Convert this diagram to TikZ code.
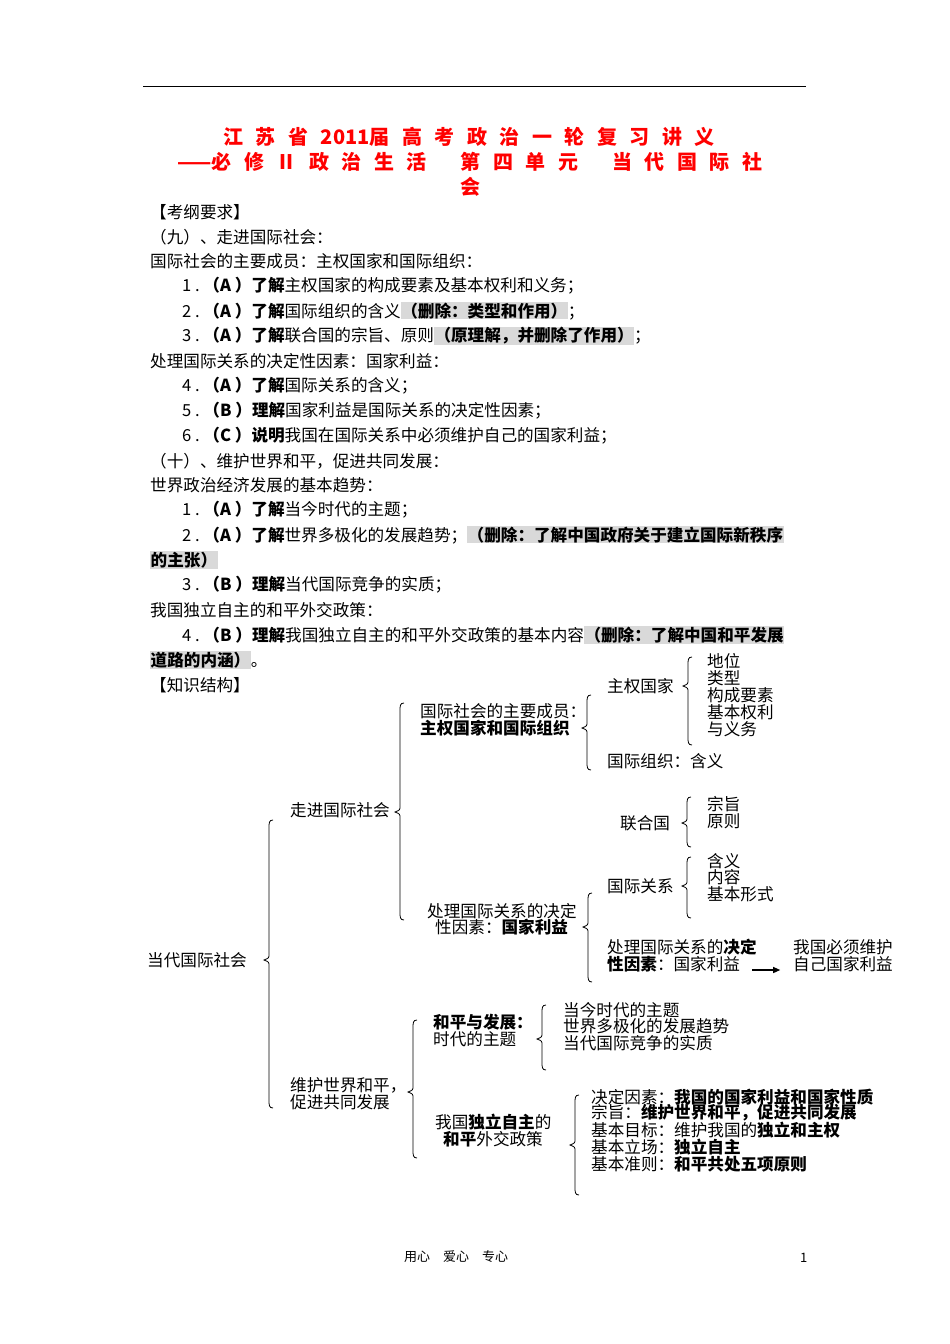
\documentclass[tikz,border=0pt]{standalone}
\usepackage{fontspec}
\setmainfont{Noto Sans CJK SC}
\usetikzlibrary{arrows.meta}
\definecolor{hl}{gray}{0.85}
\newcommand\hlt[1]{{\setlength{\fboxsep}{0.5pt}\colorbox{hl}{\bfseries #1}}}
\newcommand\tsp{\hspace{12.5pt}}
\newcommand\mybrace[4]{\draw[line width=0.8pt] (#1+9,#2) .. controls (#1+5,#2) and (#1+5,#2+3) .. (#1+5,#2+8) -- (#1+5,#4-6) .. controls (#1+5,#4-2) .. (#1,#4) .. controls (#1+5,#4+2) .. (#1+5,#4+6) -- (#1+5,#3-8) .. controls (#1+5,#3-3) and (#1+5,#3) .. (#1+9,#3);}
\begin{document}
\begin{tikzpicture}[x=1pt,y=-1pt,
  t/.style={anchor=west,inner sep=0pt,font=\fontsize{16.6}{17}\selectfont},
  ttl/.style={anchor=center,inner sep=0pt,text=red,font=\fontsize{20}{22}\selectfont\bfseries}]
\useasboundingbox (0,0) rectangle (950,1344);
\draw[line width=0.8pt] (143,86) coordinate (l1) -- (806,86) coordinate (l2);
\node[ttl] (h1) at (469,137) {江\tsp 苏\tsp 省\tsp 2011届\tsp 高\tsp 考\tsp 政\tsp 治\tsp 一\tsp 轮\tsp 复\tsp 习\tsp 讲\tsp 义};
\node[ttl] (h2) at (470,162) {——必\tsp 修\tsp Ⅱ\tsp 政\tsp 治\tsp 生\tsp 活\hspace{34pt}第\tsp 四\tsp 单\tsp 元\hspace{34pt}当\tsp 代\tsp 国\tsp 际\tsp 社};
\node[ttl] (h3) at (470,187) {会};
\node[t] (b1) at (150,212) {【考纲要求】};
\node[t] (b2) at (150,237) {（九）、走进国际社会：};
\node[t] (b3) at (150,261) {国际社会的主要成员：主权国家和国际组织：};
\node[t] (b4) at (182,286) {1\ .\ \textbf{（A ）了解}主权国家的构成要素及基本权利和义务；};
\node[t] (b5) at (182,311) {2\ .\ \textbf{（A ）了解}国际组织的含义\hlt{（删除：类型和作用）}；};
\node[t] (b6) at (182,336) {3\ .\ \textbf{（A ）了解}联合国的宗旨、原则\hlt{（原理解，并删除了作用）}；};
\node[t] (b7) at (150,361) {处理国际关系的决定性因素：国家利益：};
\node[t] (b8) at (182,386) {4\ .\ \textbf{（A ）了解}国际关系的含义；};
\node[t] (b9) at (182,411) {5\ .\ \textbf{（B ）理解}国家利益是国际关系的决定性因素；};
\node[t] (b10) at (182,436) {6\ .\ \textbf{（C ）说明}我国在国际关系中必须维护自己的国家利益；};
\node[t] (b11) at (150,461) {（十）、维护世界和平，促进共同发展：};
\node[t] (b12) at (150,485) {世界政治经济发展的基本趋势：};
\node[t] (b13) at (182,510) {1\ .\ \textbf{（A ）了解}当今时代的主题；};
\node[t] (b14) at (182,535) {2\ .\ \textbf{（A ）了解}世界多极化的发展趋势；\hlt{（删除：了解中国政府关于建立国际新秩序}};
\node[t] (b15) at (150,560) {\hlt{的主张）}};
\node[t] (b16) at (182,585) {3\ .\ \textbf{（B ）理解}当代国际竞争的实质；};
\node[t] (b17) at (150,610) {我国独立自主的和平外交政策：};
\node[t] (b18) at (182,635) {4\ .\ \textbf{（B ）理解}我国独立自主的和平外交政策的基本内容\hlt{（删除：了解中国和平发展}};
\node[t] (b19) at (150,660) {\hlt{道路的内涵）}。};
\node[t] (b20) at (150,685) {【知识结构】};
% tree
\node[t] (root) at (147,960) {当代国际社会};
\mybrace{264}{820}{1108}{960}
\node[t] (zj) at (290,810) {走进国际社会};
\mybrace{395}{703}{920}{812}
\node[t] (cy1) at (420,711) {国际社会的主要成员：};
\node[t] (cy2) at (420,728) {\bfseries 主权国家和国际组织};
\mybrace{582}{695}{770}{728}
\node[t] (zq) at (607,686) {主权国家};
\mybrace{683}{657}{745}{686}
\node[t] (zq1) at (707,661) {地位};
\node[t] (zq2) at (707,678) {类型};
\node[t] (zq3) at (707,695) {构成要素};
\node[t] (zq4) at (707,712) {基本权利};
\node[t] (zq5) at (707,729) {与义务};
\node[t] (gz) at (607,761) {国际组织：含义};
\node[t] (lhg) at (620,823) {联合国};
\mybrace{682}{797}{847}{823}
\node[t] (lh1) at (707,804) {宗旨};
\node[t] (lh2) at (707,821) {原则};
\node[t] (gg) at (607,886) {国际关系};
\mybrace{682}{857}{918}{886}
\node[t] (gg1) at (707,861) {含义};
\node[t] (gg2) at (707,877) {内容};
\node[t] (gg3) at (707,894) {基本形式};
\node[t] (cl1) at (427,911) {处理国际关系的决定};
\node[t] (cl2) at (435,927) {性因素：\textbf{国家利益}};
\mybrace{583}{893}{982}{927}
\node[t] (jd1) at (607,947) {处理国际关系的\textbf{决定}};
\node[t] (jd2) at (607,964) {\textbf{性因素}：国家利益};
\node[t] (wg1) at (793,947) {我国必须维护};
\node[t] (wg2) at (793,964) {自己国家利益};
\draw[-{Triangle[length=7pt,width=6pt]},line width=1.2pt] (jd2.east)++(12,6) coordinate (a1) -- ++(28,0) coordinate (a2);
\node[t] (wh1) at (290,1085) {维护世界和平，};
\node[t] (wh2) at (290,1102) {促进共同发展};
\mybrace{408}{1020}{1158}{1092}
\node[t] (hp1) at (433,1022) {\bfseries 和平与发展：};
\node[t] (hp2) at (433,1039) {时代的主题};
\mybrace{537}{1005}{1070}{1039}
\node[t] (hq1) at (563,1010) {当今时代的主题};
\node[t] (hq2) at (563,1026) {世界多极化的发展趋势};
\node[t] (hq3) at (563,1043) {当代国际竞争的实质};
\node[t] (wj1) at (435,1122) {我国\textbf{独立自主}的};
\node[t] (wj2) at (443,1139) {\textbf{和平}外交政策};
\mybrace{570}{1095}{1195}{1145}
\node[t] (w1) at (591,1097) {决定因素：\textbf{我国的国家利益和国家性质}};
\node[t] (w2) at (591,1113) {宗旨：\textbf{维护世界和平，促进共同发展}};
\node[t] (w3) at (591,1130) {基本目标：维护我国的\textbf{独立和主权}};
\node[t] (w4) at (591,1147) {基本立场：\textbf{独立自主}};
\node[t] (w5) at (591,1164) {基本准则：\textbf{和平共处五项原则}};
\node[t,font=\fontsize{13}{14}\selectfont] (ft) at (404,1257) {用心\quad 爱心\quad 专心};
\node[t,font=\fontsize{13}{14}\selectfont] (pg) at (800,1258) {1};
\end{tikzpicture}
\end{document}
